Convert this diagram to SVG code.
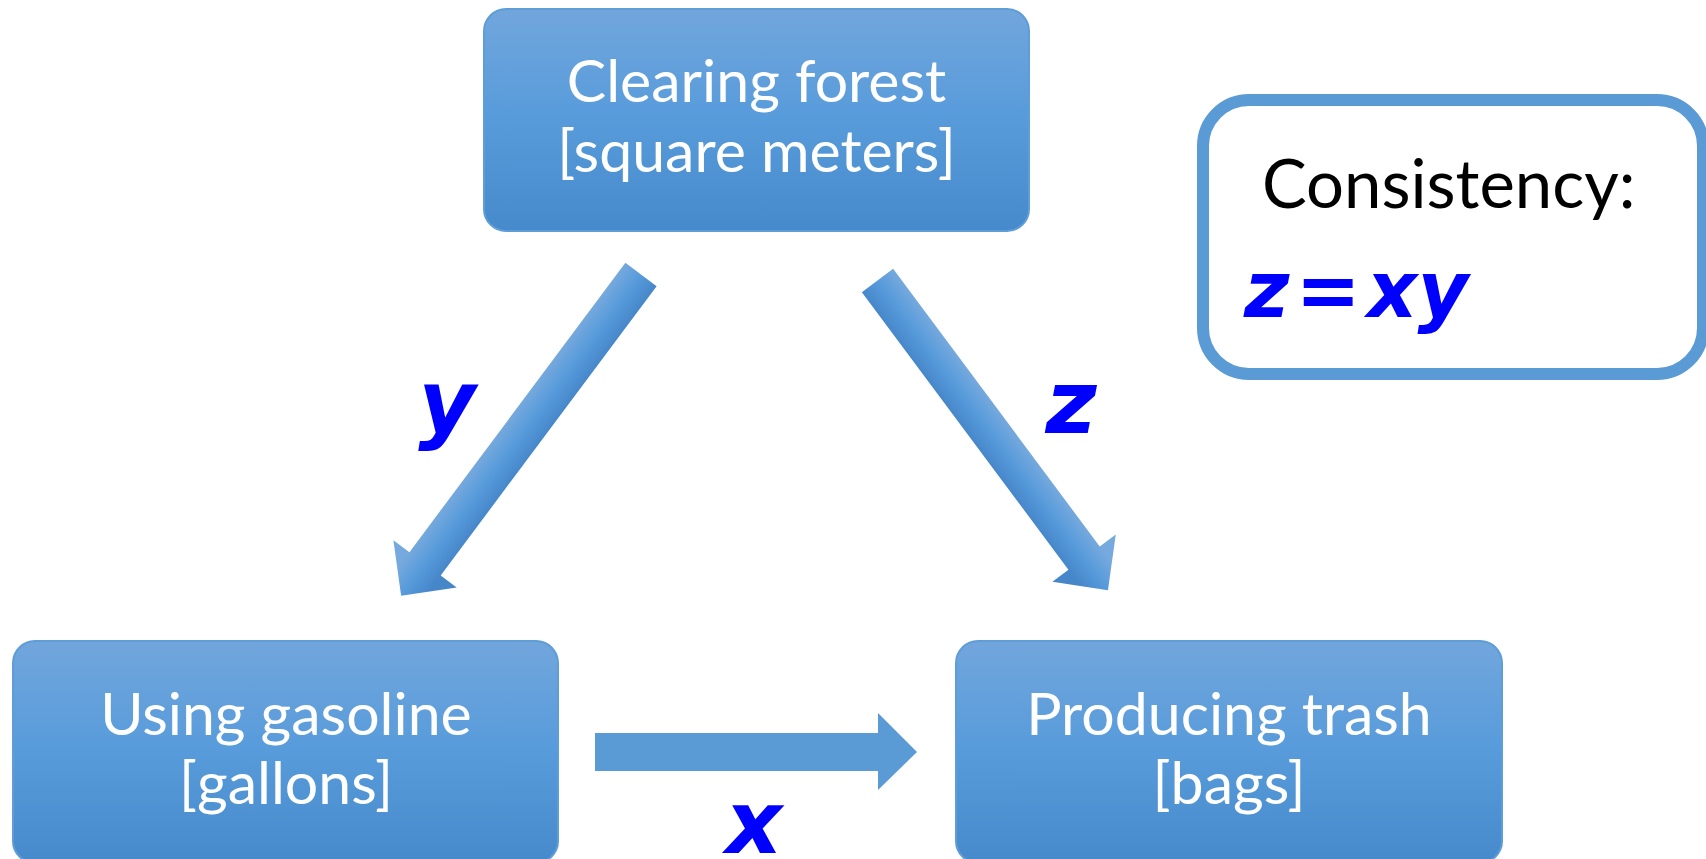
<svg xmlns="http://www.w3.org/2000/svg" width="1706" height="859" viewBox="0 0 1706 859">
  <style>
    .box { fill: url(#boxFill); stroke: #5E9DD8; stroke-width: 2; }
    .boxText { font-family: Lato, "Liberation Sans", sans-serif; font-size: 59px; fill: #FFFFFF; text-anchor: middle; }
    .var { font-family: "DejaVu Sans", Verdana, sans-serif; font-weight: bold; font-style: italic; fill: #0000FF; }
    .note { fill: #FFFFFF; stroke: #5B9BD5; stroke-width: 12; }
    .noteText { font-family: Lato, "Liberation Sans", sans-serif; font-size: 67px; fill: #000000; }
  </style>
  <defs>
    <linearGradient id="boxFill" x1="0" y1="0" x2="0" y2="1">
      <stop offset="0" stop-color="#71A6DC"/>
      <stop offset="0.5" stop-color="#579BDB"/>
      <stop offset="1" stop-color="#468ACB"/>
    </linearGradient>
    <!-- shaft shading, lighter on the upper edge of each slanted arrow -->
    <linearGradient id="shadeLeft" gradientUnits="userSpaceOnUse" x1="0" y1="19.5" x2="0" y2="-19.5">
      <stop offset="0" stop-color="#76A9DD"/>
      <stop offset="0.5" stop-color="#579BDB"/>
      <stop offset="1" stop-color="#4687CA"/>
    </linearGradient>
    <linearGradient id="shadeRight" gradientUnits="userSpaceOnUse" x1="0" y1="-19.5" x2="0" y2="19.5">
      <stop offset="0" stop-color="#76A9DD"/>
      <stop offset="0.5" stop-color="#579BDB"/>
      <stop offset="1" stop-color="#4687CA"/>
    </linearGradient>
  </defs>

  <rect width="1706" height="859" fill="#FFFFFF"/>

  <!-- connectors -->
  <g id="connectors">
    <g id="arrow-forest-gasoline" transform="translate(641,274.5) rotate(126.74)">
      <path d="M0,-19.5 L361,-19.5 L361,-39.5 L401,0 L361,39.5 L361,19.5 L0,19.5 Z" fill="url(#shadeLeft)"/>
    </g>
    <g id="arrow-forest-trash" transform="translate(877.5,280.5) rotate(53.34)">
      <path d="M0,-19.5 L346,-19.5 L346,-39.5 L386,0 L346,39.5 L346,19.5 L0,19.5 Z" fill="url(#shadeRight)"/>
    </g>
    <path id="arrow-gasoline-trash" d="M595,733 L878,733 L878,713 L917,752 L878,790 L878,771 L595,771 Z" fill="#5B9BD5"/>
    <text class="var" x="447" y="432" font-size="88" text-anchor="middle">y</text>
    <text class="var" x="1071" y="433" font-size="88" text-anchor="middle">z</text>
    <text class="var" x="754" y="853" font-size="88" text-anchor="middle">x</text>
  </g>

  <!-- nodes -->
  <g id="node-forest">
    <rect class="box" x="484" y="9" width="545" height="222" rx="22"/>
    <text class="boxText" x="756.5" y="102">Clearing forest</text>
    <text class="boxText" x="756.5" y="172">[square meters]</text>
  </g>
  <g id="node-gasoline">
    <rect class="box" x="13" y="641" width="545" height="222" rx="22"/>
    <text class="boxText" x="286" y="735">Using gasoline</text>
    <text class="boxText" x="286" y="804">[gallons]</text>
  </g>
  <g id="node-trash">
    <rect class="box" x="956" y="641" width="546" height="222" rx="22"/>
    <text class="boxText" x="1229" y="735">Producing trash</text>
    <text class="boxText" x="1229" y="804">[bags]</text>
  </g>
  <g id="node-consistency">
    <rect class="note" x="1203" y="100" width="500" height="274" rx="46"/>
    <text class="noteText" x="1262" y="208">Consistency:</text>
    <text class="var" x="1244" y="317" font-size="78" word-spacing="-21">z = xy</text>
  </g>
</svg>
